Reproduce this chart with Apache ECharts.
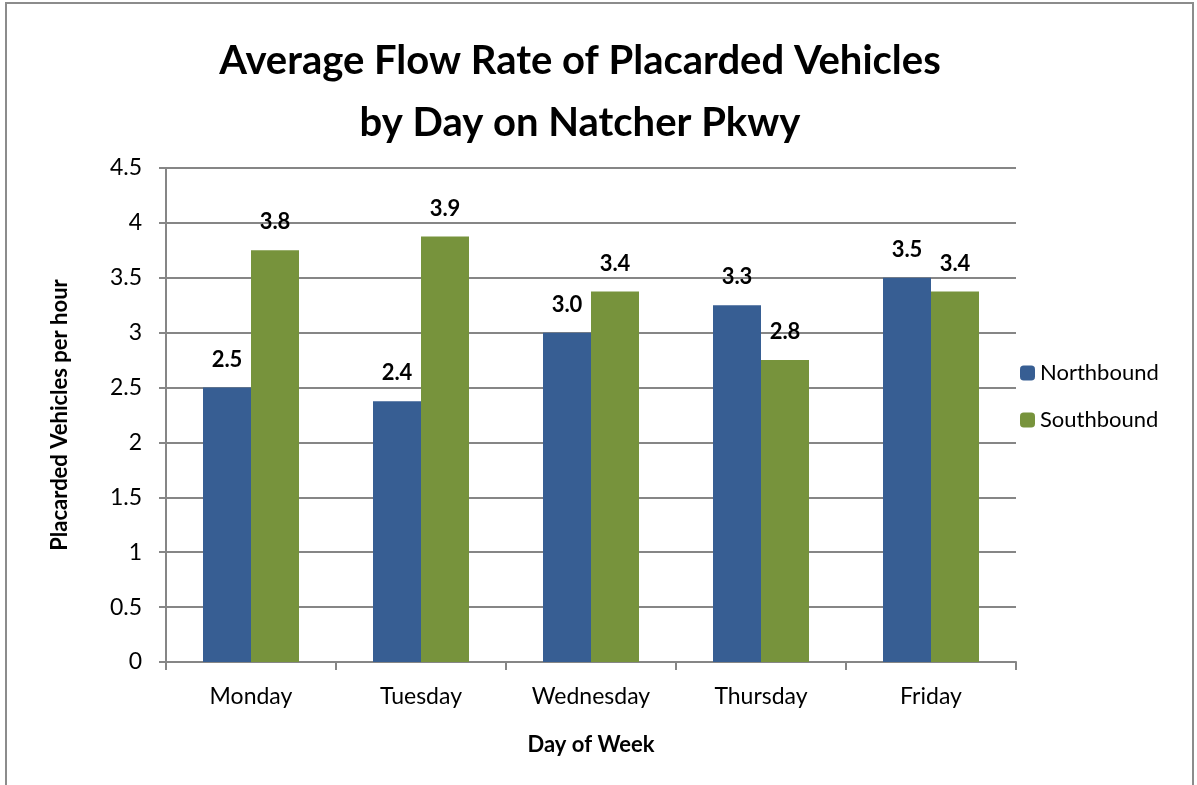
<!DOCTYPE html>
<html>
<head>
<meta charset="UTF-8">
<title></title>
<script src="https://cdn.jsdelivr.net/npm/echarts@6/dist/echarts.min.js"></script>
<style>
  html, body { margin: 0; padding: 0; background: #fff; }
  #frame { position: absolute; left: 5px; top: 2px; width: 1189px; height: 800px; border: 2px solid #8c8c8c; box-sizing: border-box; }
  #main { position: absolute; left: 0; top: 0; width: 1197px; height: 785px; }
</style>
</head>
<body>
<div id="frame"></div>
<div id="main"></div>
<script>
    var days = ['Monday', 'Tuesday', 'Wednesday', 'Thursday', 'Friday'];
    var northbound = [2.5, 2.375, 3.0, 3.25, 3.5];
    var southbound = [3.75, 3.875, 3.375, 2.75, 3.375];

    var fontName = 'Lato';
    var gray = '#868686';

    var myChart = echarts.init(document.getElementById('main'));

    var label = {
        show: true,
        position: 'top',
        distance: 17,
        color: '#000',
        fontWeight: 'bold',
        fontSize: 22,
        fontFamily: fontName,
        formatter: function (p) { return p.value.toFixed(1); }
    };

    var option = {
        animation: false,
        textStyle: { fontFamily: fontName },
        title: {
            text: 'Average Flow Rate of Placarded Vehicles\nby Day on Natcher Pkwy',
            left: 575,
            textAlign: 'center',
            top: 25,
            textStyle: { fontSize: 40, fontWeight: 'bold', color: '#000', lineHeight: 62, fontFamily: fontName }
        },
        legend: {
            orient: 'vertical',
            left: 1015,
            top: 357,
            itemWidth: 15,
            itemHeight: 15,
            itemGap: 25,
            textStyle: { fontSize: 22, color: '#000', fontFamily: fontName },
            data: ['Northbound', 'Southbound']
        },
        grid: { left: 166, right: 181, top: 168, bottom: 123 },
        xAxis: {
            type: 'category',
            data: days,
            name: 'Day of Week',
            nameLocation: 'middle',
            nameGap: 72,
            nameTextStyle: { fontSize: 22, fontWeight: 'bold', color: '#000' },
            axisLine: { lineStyle: { color: gray, width: 2 } },
            axisTick: { show: true, length: 8, lineStyle: { color: gray, width: 2 } },
            axisLabel: { fontSize: 23, color: '#000', margin: 23 }
        },
        yAxis: {
            type: 'value',
            min: 0,
            max: 4.5,
            interval: 0.5,
            name: 'Placarded Vehicles per hour',
            nameLocation: 'middle',
            nameGap: 95,
            nameTextStyle: { fontSize: 22, fontWeight: 'bold', color: '#000' },
            axisLine: { show: true, lineStyle: { color: gray, width: 2 } },
            axisTick: { show: true, length: 7, lineStyle: { color: gray, width: 2 } },
            axisLabel: { fontSize: 23, color: '#000', margin: 24 },
            splitLine: { lineStyle: { color: gray, width: 2 } }
        },
        series: [
            {
                name: 'Northbound',
                type: 'bar',
                data: northbound,
                barWidth: 48,
                barGap: '0%',
                itemStyle: { color: '#375E93' },
                label: label
            },
            {
                name: 'Southbound',
                type: 'bar',
                data: southbound,
                barWidth: 48,
                barGap: '0%',
                itemStyle: { color: '#77933C' },
                label: label
            }
        ]
    };

    myChart.setOption(option);
</script>
</body>
</html>
